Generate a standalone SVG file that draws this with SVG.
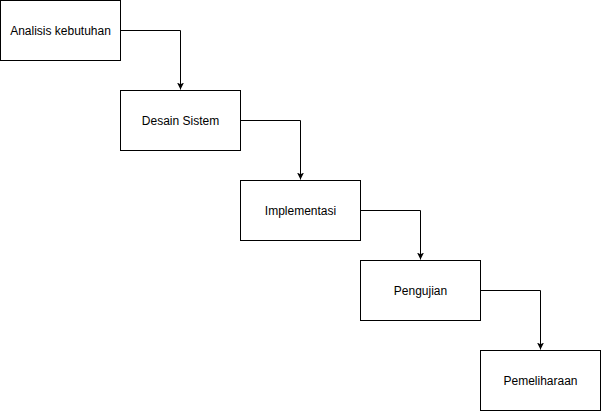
<svg xmlns="http://www.w3.org/2000/svg" width="601" height="411" viewBox="0 0 601 411">
<style>
.box{fill:#fff;stroke:#000;stroke-width:1}
.lbl{font-family:"Liberation Sans",Arial,sans-serif;font-size:12px;fill:#000;text-anchor:middle;dominant-baseline:central}
.edge{fill:none;stroke:#000;stroke-width:1}
</style>
<defs>
<marker id="arr" viewBox="0 0 10 10" refX="10" refY="5" markerWidth="7" markerHeight="7" markerUnits="userSpaceOnUse" orient="auto">
<path d="M0,0 L10,5 L0,10 L2.5,5 Z" fill="#000"/>
</marker>
</defs>
<rect width="601" height="411" fill="#fff"/>
<g id="connectors">
<path class="edge" d="M120.5,30.5 H180.5 V89.5" marker-end="url(#arr)"/>
<path class="edge" d="M240.5,120.5 H300.5 V179.5" marker-end="url(#arr)"/>
<path class="edge" d="M360.5,210.5 H420.5 V259.5" marker-end="url(#arr)"/>
<path class="edge" d="M480.5,290.5 H540.5 V349.5" marker-end="url(#arr)"/>
</g>
<g id="n1"><rect class="box" x="0.5" y="0.5" width="120" height="60"/><text class="lbl" x="60.5" y="30.5">Analisis kebutuhan</text></g>
<g id="n2"><rect class="box" x="120.5" y="90.5" width="120" height="60"/><text class="lbl" x="180.5" y="120.5">Desain Sistem</text></g>
<g id="n3"><rect class="box" x="240.5" y="180.5" width="120" height="60"/><text class="lbl" x="300.5" y="210.5">Implementasi</text></g>
<g id="n4"><rect class="box" x="360.5" y="260.5" width="120" height="60"/><text class="lbl" x="420.5" y="290.5">Pengujian</text></g>
<g id="n5"><rect class="box" x="480.5" y="350.5" width="120" height="60"/><text class="lbl" x="540.5" y="380.5">Pemeliharaan</text></g>
</svg>
